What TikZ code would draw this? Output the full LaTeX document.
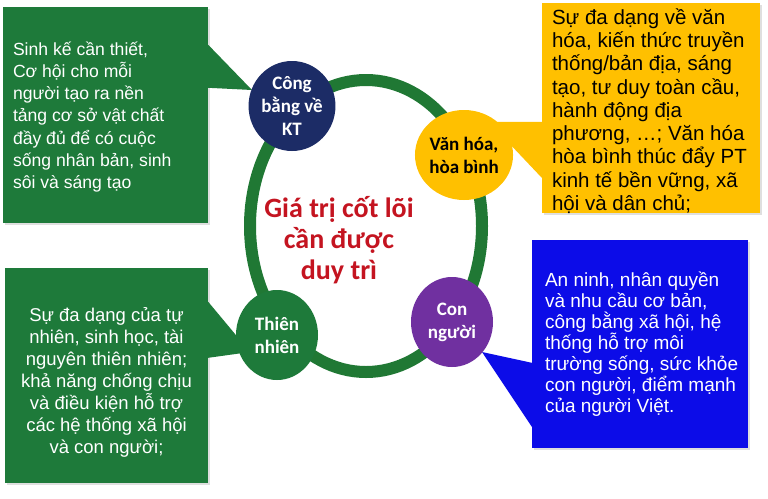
\documentclass[tikz,border=0pt]{standalone}
\usepackage{fontspec}
\setmainfont{Liberation Sans}
\newfontfamily\calibrifont{Carlito}
\usetikzlibrary{calc,positioning,shapes.geometric,shadows}
\definecolor{boxgreen}{RGB}{30,122,58}
\definecolor{ringgreen}{RGB}{32,120,52}
\definecolor{culturegold}{RGB}{255,192,0}
\definecolor{peopleblue}{RGB}{12,12,232}
\definecolor{econnavy}{RGB}{28,44,102}
\definecolor{peoplepurple}{RGB}{112,48,160}
\definecolor{corered}{RGB}{196,20,32}

\begin{document}
\begin{tikzpicture}[
  x=1pt, y=-1pt,
  box/.style={draw=none, inner sep=0pt,
    drop shadow={opacity=0.25, shadow xshift=2pt, shadow yshift=-2pt}},
  boxtext/.style={inner sep=0pt, align=left, font=\fontsize{17.6}{22.3}\selectfont},
  value/.style={ellipse, inner sep=0pt, minimum width=82pt, minimum height=90pt,
    align=center, font=\calibrifont\bfseries\fontsize{19}{23}\selectfont},
  ring/.style={ringgreen, line width=12pt},
  core/.style={align=center, text=corered,
    font=\calibrifont\bfseries\fontsize{28}{31}\selectfont},
]
\useasboundingbox (0,0) rectangle (768,498);
\fill[white] (0,0) rectangle (768,498);

% the ring that joins the four values
\draw[ring] (366,226) ellipse [x radius=116pt, y radius=146pt];

% -------------------------------------------------------------------------
% Boxes with their texts
% -------------------------------------------------------------------------
\node[box, fill=boxgreen, minimum width=205pt, minimum height=216pt]
  (econbox) at (105.5,115) {};
\node[boxtext, text=white, anchor=west] (econtext) at ($(econbox.west)+(10,2)$)
  {Sinh kế cần thiết,\\
   Cơ hội cho mỗi\\
   người tạo ra nền\\
   tảng cơ sở vật chất\\
   đầy đủ để có cuộc\\
   sống nhân bản, sinh\\
   sôi và sáng tạo};

\node[box, fill=culturegold, minimum width=218pt, minimum height=210pt]
  (culturebox) at (651,108) {};
\node[boxtext, text=black, anchor=west, font=\fontsize{20.5}{23.3}\selectfont]
  (culturetext) at ($(culturebox.west)+(10,3)$)
  {Sự đa dạng về văn\\
   hóa, kiến thức truyền\\
   thống/bản địa, sáng\\
   tạo, tư duy toàn cầu,\\
   hành động địa\\
   phương, …; Văn hóa\\
   hòa bình thúc đẩy PT\\
   kinh tế bền vững, xã\\
   hội và dân chủ;};

\node[box, fill=boxgreen, minimum width=203pt, minimum height=215pt]
  (naturebox) at (106.5,375.5) {};
\node[boxtext, text=white, align=center, font=\fontsize{18.5}{22}\selectfont]
  (naturetext) at ($(naturebox.center)+(0,7)$)
  {Sự đa dạng của tự\\
   nhiên, sinh học, tài\\
   nguyên thiên nhiên;\\
   khả năng chống chịu\\
   và điều kiện hỗ trợ\\
   các hệ thống xã hội\\
   và con người;};

\node[box, fill=peopleblue, minimum width=216pt, minimum height=208pt]
  (peoplebox) at (640,344) {};
\node[boxtext, text=white, anchor=west, font=\fontsize{19}{21}\selectfont]
  (peopletext) at ([xshift=13pt]peoplebox.west)
  {An ninh, nhân quyền\\
   và nhu cầu cơ bản,\\
   công bằng xã hội, hệ\\
   thống hỗ trợ môi\\
   trường sống, sức khỏe\\
   con người, điểm mạnh\\
   của người Việt.};

% -------------------------------------------------------------------------
% Pointers from each box to its value
% -------------------------------------------------------------------------
\coordinate (econtip) at (252,90);
\coordinate (culturetip) at (489,122);
\coordinate (naturetip) at (250,352);
\coordinate (peopletip) at (482,352);

\fill[boxgreen] ($(econbox.north east)+(0,38)$) -- (econtip)
  -- ($(econbox.north east)+(0,81)$) -- cycle;
\fill[culturegold] ($(culturebox.north west)+(0,119)$) -- (culturetip)
  -- ($(culturebox.north west)+(0,175)$) -- cycle;
\fill[boxgreen] ($(naturebox.north east)+(0,34)$) -- (naturetip)
  -- ($(naturebox.north east)+(0,90)$) -- cycle;
\fill[peopleblue] ($(peoplebox.north west)+(0,123)$) -- (peopletip)
  -- ($(peoplebox.north west)+(0,187)$) -- cycle;

% -------------------------------------------------------------------------
% The four values on the ring and the core in the middle
% -------------------------------------------------------------------------
\node[value, fill=econnavy, text=white] (econ) at (292,106) {Công\\bằng về\\KT};
\node[value, fill=culturegold, text=black] (culture) at (464,155) {Văn hóa,\\hòa bình};
\node[value, fill=boxgreen, text=white] (nature) at (277,335) {Thiên\\nhiên};
\node[value, fill=peoplepurple, text=white] (people) at (452,322) {Con\\người};

\node[core] (core) at (339,240) {Giá trị cốt lõi\\cần được\\duy trì};

\end{tikzpicture}
\end{document}
